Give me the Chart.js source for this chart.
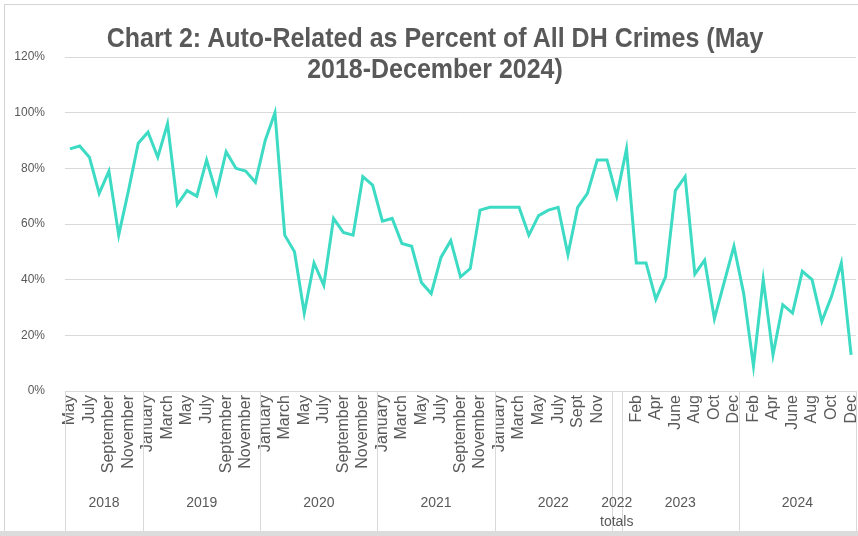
<!DOCTYPE html>
<html>
<head>
<meta charset="utf-8">
<script src="https://cdn.jsdelivr.net/npm/chart.js@4"></script>
<style>
  html, body { margin:0; padding:0; background:#ffffff; }
  #wrap { position:relative; width:858px; height:536px; overflow:hidden; background:#ffffff; }
  #c { position:absolute; left:0; top:0; }
  #title { position:absolute; left:0; width:870px; top:22px; text-align:center;
           font-family:"Liberation Sans", Arial, sans-serif; font-weight:bold; font-size:25px;
           line-height:28px; color:#595959; transform:scaleY(1.1); transform-origin:50% 0; }
  #frame { position:absolute; left:4px; top:4px; width:900px; height:600px;
           border-left:1px solid #d4d4d4; border-top:1px solid #d4d4d4; pointer-events:none; }
  #band { position:absolute; left:0; top:531px; width:858px; height:5px; background:#dcdcdc; }
</style>
</head>
<body>
<div id="wrap">
  <canvas id="c" width="858" height="536"></canvas>
  <div id="title">Chart 2: Auto-Related as Percent of All DH Crimes (May<br>2018-December 2024)</div>
  <div id="frame"></div>
  <div id="band"></div>
</div>
<script>
// ---- data ----
const monthLabels = [
  // 2018
  'May','June','July','August','September','October','November','December',
  // 2019
  'January','February','March','April','May','June','July','August','September','October','November','December',
  // 2020
  'January','February','March','April','May','June','July','August','September','October','November','December',
  // 2021
  'January','February','March','April','May','June','July','August','September','October','November','December',
  // 2022
  'January','February','March','April','May','June','July','Aug','Sept','Oct','Nov','Dec',
  // 2022 totals
  '',
  // 2023
  'Jan','Feb','Mar','Apr','May','June','July','Aug','Sept','Oct','Nov','Dec',
  // 2024
  'Jan','Feb','Mar','Apr','May','June','July','Aug','Sept','Oct','Nov','Dec'
];
const groupLabels = ['2018','2019','2020','2021','2022','2022\ntotals','2023','2024'];
const groupCounts = [8,12,12,12,12,1,12,12];
const autoPercent = [
  // 2018
  87, 88, 84, 71, 79, 56, 72, 89,
  // 2019
  93, 84, 96, 67, 72, 70, 83, 71, 86, 80, 79, 75,
  // 2020
  90, 100, 56, 50, 28, 46, 38, 62, 57, 56, 77, 74,
  // 2021
  61, 62, 53, 52, 39, 35, 48, 54, 41, 44, 65, 66,
  // 2022
  66, 66, 66, 56, 63, 65, 66, 49, 66, 71, 83, 83,
  // 2022 totals
  70,
  // 2023
  87, 46, 46, 33, 41, 72, 77, 42, 47, 26, 39, 52,
  // 2024
  35, 9, 40, 13, 31, 28, 43, 40, 25, 34, 46, 13
];
const yTicks = [0, 20, 40, 60, 80, 100, 120];

const FONT = '"Liberation Sans", Arial, sans-serif';
const TXT = '#595959';
const GRID = '#d9d9d9';

const groupPlugin = {
  id: 'groupAxis',
  afterDraw(chart) {
    const xs = chart.scales.x;
    const ctx = chart.ctx;
    const area = chart.chartArea;
    const half = (xs.getPixelForValue(1) - xs.getPixelForValue(0)) / 2;
    const yTop = area.bottom;
    const yBot = 531;
    ctx.save();
    ctx.strokeStyle = GRID;
    ctx.lineWidth = 1;
    const vline = (x) => {
      const px = Math.round(x) + 0.5;
      ctx.beginPath(); ctx.moveTo(px, yTop); ctx.lineTo(px, yBot); ctx.stroke();
    };
    vline(xs.getPixelForValue(0) - half);
    ctx.fillStyle = TXT;
    ctx.font = '14px ' + FONT;
    ctx.textAlign = 'center';
    ctx.textBaseline = 'middle';
    let start = 0;
    groupCounts.forEach((n, g) => {
      const l = xs.getPixelForValue(start) - half;
      const r = xs.getPixelForValue(start + n - 1) + half;
      vline(r);
      const lines = groupLabels[g].split('\n');
      lines.forEach((t, k) => ctx.fillText(t, (l + r) / 2, 503 + k * 19));
      start += n;
    });
    ctx.restore();
  }
};

new Chart(document.getElementById('c'), {
  type: 'line',
  data: {
    labels: monthLabels,
    datasets: [{
      data: autoPercent,
      borderColor: '#3ddbc3',
      backgroundColor: '#3ddbc3',
      borderWidth: 3,
      pointRadius: 0,
      tension: 0,
      fill: false
    }]
  },
  options: {
    responsive: false,
    animation: false,
    layout: { padding: { top: 57, right: 2, left: 0, bottom: 0 } },
    plugins: { legend: { display: false }, title: { display: false }, tooltip: { enabled: false } },
    scales: {
      x: {
        type: 'category',
        offset: true,
        grid: { display: false, drawTicks: false },
        border: { display: false },
        ticks: {
          autoSkip: false,
          minRotation: 90,
          maxRotation: 90,
          padding: 4,
          color: TXT,
          font: { family: FONT, size: 16 },
          callback: function(v, i) { return i % 2 === 0 ? this.getLabelForValue(v) : ''; }
        },
        afterFit: (s) => { s.height = 145; s.paddingLeft = 0; s.paddingRight = 0; }
      },
      y: {
        min: 0,
        max: 120,
        afterBuildTicks: (s) => { s.ticks = yTicks.map(v => ({ value: v })); },
        grid: { color: GRID, lineWidth: 1, drawTicks: false },
        border: { display: false },
        ticks: {
          padding: 20,
          color: TXT,
          font: { family: FONT, size: 12 },
          callback: (v) => v + '%'
        },
        afterFit: (s) => { s.width = 65; s.paddingTop = 0; s.paddingBottom = 0; }
      }
    }
  },
  plugins: [groupPlugin]
});
</script>
</body>
</html>
